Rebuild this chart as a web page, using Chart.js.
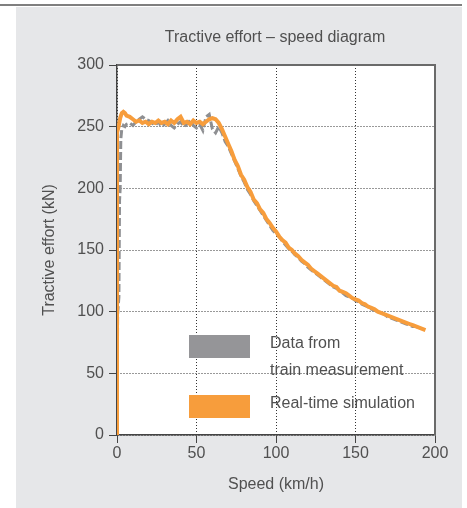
<!DOCTYPE html>
<html>
<head>
<meta charset="utf-8">
<script src="https://cdn.jsdelivr.net/npm/chart.js@4/dist/chart.umd.min.js"></script>
<style>
  body { margin: 0; background: #fff; }
  canvas { display: block; }
</style>
</head>
<body>
<canvas id="tractive-chart" width="467" height="508"></canvas>
<script>
    "use strict";

    // Real-time simulation (km/h, kN)
    var simSpeed = [0, 0, 1, 2, 3, 4, 5, 6, 8, 10, 12, 14, 16, 18, 20, 22, 24, 26, 28, 30,
        32, 34, 36, 38, 40, 42, 44, 46, 48, 50, 52, 54, 56, 58, 60, 62, 64, 66, 68, 70,
        72, 74, 76, 78, 80, 82, 84, 86, 88, 90, 92, 94, 96, 98, 100, 102, 104, 106, 108, 110,
        112, 114, 116, 118, 120, 122, 124, 126, 128, 130, 132, 134, 136, 138, 140, 142, 144, 146, 148, 150,
        152, 154, 156, 158, 160, 162, 164, 166, 168, 170, 172, 174, 176, 178, 180, 182, 184, 186, 188, 190,
        192, 194];
    var simForce = [0, 245, 250, 257, 261, 262, 261, 259, 258, 256, 254, 255, 253, 254, 252, 254, 253, 255, 253, 254,
        252, 255, 253, 256, 258, 253, 254, 252, 255, 253, 254, 252, 254, 256, 257, 256, 253, 248, 242, 236,
        230, 223, 218, 211, 207, 201, 197, 191, 188, 183, 180, 175, 172, 168, 165, 161, 158, 156, 152, 150,
        147, 145, 142, 140, 138, 135, 133, 131, 129, 127, 125, 123, 121, 120, 117, 116, 115, 113, 111, 110,
        109, 107, 106, 104, 103, 102, 100, 99, 98, 97, 96, 95, 94, 93, 92, 91, 90, 89, 88, 87,
        86, 85];

    // Data from train measurement (km/h, kN)
    var measSpeed = [0, 0.4, 1.2, 1.6, 2, 2.4, 3, 4, 5, 6, 8, 10, 12, 14, 16, 18, 20, 22, 24, 26,
        28, 30, 32, 34, 36, 38, 40, 42, 44, 46, 48, 50, 52, 54, 56, 58, 60, 62, 64, 66,
        68, 70, 72, 74, 76, 78, 80, 82, 84, 86, 88, 90, 92, 94, 96, 98, 100, 102, 104, 106,
        108, 110, 112, 114, 116, 118, 120, 122, 124, 126, 128, 130, 132, 134, 136, 138, 140, 142, 144, 146,
        148, 150, 152, 154, 156, 158, 160, 162, 164, 166, 168, 170, 172, 174, 176, 178, 180, 182, 184, 186,
        188, 190];
    var measForce = [0, 98, 112, 190, 200, 240, 248, 251, 250, 252, 253, 251, 254, 256, 258, 256, 255, 253, 251, 254,
        250, 252, 255, 251, 249, 252, 254, 250, 252, 255, 251, 249, 252, 247, 258, 260, 248, 245, 250, 245,
        238, 234, 228, 222, 216, 210, 205, 199, 195, 190, 186, 182, 178, 174, 170, 166, 163, 161, 157, 154,
        151, 149, 146, 144, 141, 139, 136, 134, 132, 130, 128, 126, 124, 122, 120, 119, 117, 115, 113, 112,
        111, 109, 108, 106, 105, 104, 102, 101, 100, 99, 98, 96, 95, 94, 93, 92, 91, 90, 89, 88,
        88, 87];

    var legendLabels = ["Data from", "train measurement", "Real-time simulation"];

    var textColor = "#505050";
    var orange = "#f79d3c";
    var grey = "#8e8f92";
    var family = "'Liberation Sans', Arial, sans-serif";
    var font16 = "16px " + family;

    function toPoints(xs, ys) {
        var pts = [];
        for (var i = 0; i < xs.length; i++) {
            pts.push({x: xs[i], y: ys[i]});
        }
        return pts;
    }

    // Panel, title, plot frame and legend
    var decor = {
        id: "decor",
        beforeDraw: function (chart) {
            var c = chart.ctx, a = chart.chartArea;
            c.save();
            c.fillStyle = "#ffffff";
            c.fillRect(0, 0, chart.width, chart.height);
            c.fillStyle = "#e6e7e9";
            c.fillRect(16, 7, 446, 501);
            c.strokeStyle = "#555";
            c.lineWidth = 1.5;
            c.beginPath();
            c.moveTo(0, 5);
            c.lineTo(462, 5);
            c.stroke();
            c.fillStyle = "#ffffff";
            c.fillRect(a.left, a.top, a.right - a.left, a.bottom - a.top);
            c.fillStyle = textColor;
            c.font = font16;
            c.textAlign = "center";
            c.textBaseline = "middle";
            c.fillText("Tractive effort \u2013 speed diagram", 275, 38);
            c.restore();
        },
        afterDatasetsDraw: function (chart) {
            var c = chart.ctx, a = chart.chartArea;
            c.save();
            c.fillStyle = "#959598";
            c.fillRect(189, 335, 61, 23);
            c.fillStyle = orange;
            c.fillRect(189, 395, 61, 23);
            c.fillStyle = textColor;
            c.font = font16;
            c.textAlign = "left";
            c.textBaseline = "middle";
            c.fillText(legendLabels[0], 270, 344);
            c.fillText(legendLabels[1], 270, 371);
            c.fillText(legendLabels[2], 270, 404);
            c.strokeStyle = "#6a6a6a";
            c.lineWidth = 2;
            c.beginPath();
            c.moveTo(a.left, a.top);
            c.lineTo(a.right, a.top);
            c.lineTo(a.right, a.bottom);
            c.stroke();
            c.restore();
        }
    };

    var ctx = document.getElementById("tractive-chart").getContext("2d");
    var chart = new Chart(ctx, {
        type: "line",
        data: {
            datasets: [{
                    label: "Real-time simulation",
                    data: toPoints(simSpeed, simForce),
                    borderColor: orange,
                    borderWidth: 4,
                    pointRadius: 0,
                    tension: 0
                },
                {
                    label: "Data from train measurement",
                    data: toPoints(measSpeed, measForce),
                    borderColor: grey,
                    borderWidth: 3,
                    borderDash: [8, 3],
                    pointRadius: 0,
                    tension: 0
                }
            ]
        },
        options: {
            responsive: false,
            animation: false,
            layout: {padding: {left: 0, top: 65, right: 32, bottom: 0}},
            plugins: {
                legend: {display: false},
                tooltip: {enabled: false}
            },
            scales: {
                x: {
                    type: "linear",
                    min: 0,
                    max: 200,
                    ticks: {stepSize: 50, color: textColor, font: {family: family, size: 16}, padding: 1, maxRotation: 0},
                    grid: {color: "#333", tickColor: "#444", tickLength: 8},
                    border: {color: "#444", width: 1.5, dash: [1, 2]},
                    title: {display: true, text: "Speed (km/h)", color: textColor, font: {family: family, size: 16}, padding: {top: 0, bottom: 14}},
                    afterFit: function (scale) { scale.height = 73; }
                },
                y: {
                    min: 0,
                    max: 300,
                    ticks: {stepSize: 50, color: textColor, font: {family: family, size: 16}, padding: 5},
                    grid: {color: "#333", tickColor: "#444", tickLength: 8},
                    border: {color: "#444", width: 1.5, dash: [1, 2]},
                    title: {display: true, text: "Tractive effort (kN)", color: textColor, font: {family: family, size: 16}, padding: {top: 40, bottom: 0}},
                    afterFit: function (scale) { scale.width = 117; }
                }
            }
        },
        plugins: [decor]
    });
</script>
</body>
</html>
